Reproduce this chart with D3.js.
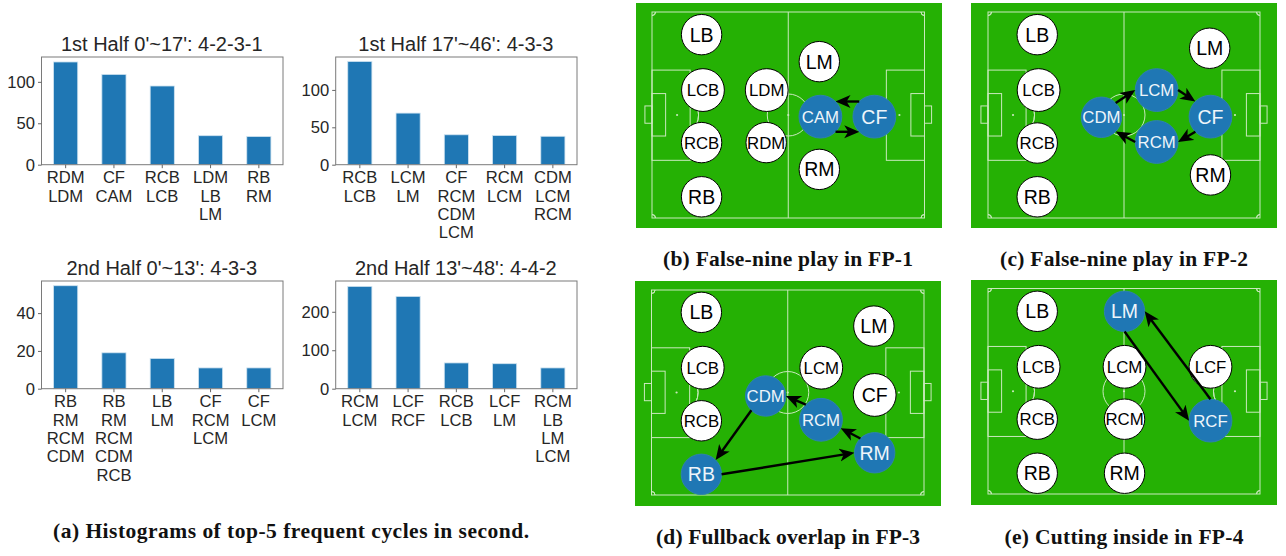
<!DOCTYPE html>
<html>
<head>
<meta charset="utf-8">
<style>
  html, body { margin: 0; padding: 0; background: #fff; }
  svg { display: block; }
  text { font-family: "Liberation Sans", Arial, sans-serif; }
  .caption { font-family: "Liberation Serif", serif; font-weight: bold; font-size: 21.5px; fill: #111; text-anchor: middle; }
</style>
<script src="https://cdn.jsdelivr.net/npm/d3@7"></script>
</head>
<body>
<div id="figure"></div>
<script>
// Histogram panels: titles, cycle labels and counts
var titles = ["1st Half 0'~17': 4-2-3-1", "1st Half 17'~46': 4-3-3", "2nd Half 0'~13': 4-3-3", "2nd Half 13'~48': 4-4-2"];
var cycles1 = ["RDM LDM", "CF CAM", "RCB LCB", "LDM LB LM", "RB RM"];
var counts1 = [124, 109, 95, 35, 34];
var cycles2 = ["RCB LCB", "LCM LM", "CF RCM CDM LCM", "RCM LCM", "CDM LCM RCM"];
var counts2 = [138, 69, 40, 39, 38];
var cycles3 = ["RB RM RCM CDM", "RB RM RCM CDM RCB", "LB LM", "CF RCM LCM", "CF LCM"];
var counts3 = [54.5, 19, 16, 11, 11];
var cycles4 = ["RCM LCM", "LCF RCF", "RCB LCB", "LCF LM", "RCM LB LM LCM"];
var counts4 = [266, 240, 67, 65, 54];
var yTicks1 = [0, 50, 100];
var yTicks2 = [0, 50, 100];
var yTicks3 = [0, 20, 40];
var yTicks4 = [0, 100, 200];
var yMax = [130, 144, 57, 280];

// Pitch panels: player names and positions in percent of pitch length / width
var namesB = ["LB", "LCB", "RCB", "RB", "LDM", "RDM", "LM", "RM", "CAM", "CF"];
var xB = [18.2, 18.7, 18.2, 18.2, 42.1, 41.9, 61.4, 61.4, 61.8, 81.6];
var yB = [11, 37.9, 63.4, 89.7, 37.9, 63.4, 24.1, 76.4, 50.8, 50.8];
var activeB = ["CAM", "CF"];
var wideB = ["LCB", "LDM", "CAM", "CF"];
var passesB = [["CF", "CAM", "NW", "NE"], ["CAM", "CF", "SE", "SW"]];

var namesC = ["LB", "LCB", "RCB", "RB", "CDM", "LCM", "RCM", "CF", "LM", "RM"];
var xC = [18.1, 18.6, 18.1, 18.1, 41.7, 62, 62, 81.8, 81.5, 81.8];
var yC = [11, 37.9, 63.6, 89.7, 51.1, 37.9, 63.1, 50.8, 17.6, 79.1];
var activeC = ["CDM", "LCM", "RCM", "CF"];
var wideC = ["LCB", "LCM", "RCM", "CF"];
var passesC = [["CDM", "LCM", "NE", "W"], ["LCM", "CF", "E", "NW"], ["CF", "RCM", "SW", "E"], ["RCM", "CDM", "W", "SE"]];

var namesD = ["LB", "LCB", "RCB", "RB", "CDM", "RCM", "LCM", "CF", "LM", "RM"];
var xD = [18.3, 18.8, 18.3, 18.3, 41.9, 62.2, 62.3, 81.9, 81.6, 81.9];
var yD = [10.9, 37.9, 63.8, 89.9, 51.7, 63.3, 37.9, 51.2, 17.6, 79.4];
var activeD = ["RB", "RM", "RCM", "CDM"];
var wideD = ["LCB", "RCM", "LCM", "CF"];
var passesD = [["RB", "RM", "E", "W"], ["RM", "RCM", "NW", "ESE"], ["RCM", "CDM", "NW", "E"], ["CDM", "RB", "SW", "NE"]];

var namesE = ["LB", "LCB", "RCB", "RB", "LM", "LCM", "RCM", "RM", "LCF", "RCF"];
var xE = [18.1, 18.6, 18.1, 18.1, 50.2, 50.2, 50.2, 50.2, 81.8, 81.8];
var yE = [11.1, 38.1, 63.6, 89.9, 11.1, 38.1, 63.6, 89.9, 38.1, 64.3];
var activeE = ["LM", "RCF"];
var wideE = ["LCB", "LCM", "LCF", "RCF"];
var passesE = [["RCF", "LM", "N", "E"], ["LM", "RCF", "S", "W"]];

var captions = [
    ["(a) Histograms of top-5 frequent cycles in second.", 291, 537.5, 476],
    ["(b) False-nine play in FP-1", 788, 265.5, 250],
    ["(c) False-nine play in FP-2", 1124, 265.5, 248],
    ["(d) Fullback overlap in FP-3", 788, 543.5, 264],
    ["(e) Cutting inside in FP-4", 1124, 543.5, 239]
];

var barBlue = "#1f77b4";
var textDark = "#262626";
var grass = "#25b104";
var pitchLine = "#c9e9bd";

var svg = d3.select("#figure")
    .append("svg")
    .attr("width", 1286)
    .attr("height", 556);

// Arrow head shared by all pitch panels
svg.append("defs").append("marker")
    .attr("id", "head")
    .attr("markerUnits", "userSpaceOnUse")
    .attr("viewBox", "0 -7 15 14")
    .attr("refX", 11)
    .attr("refY", 0)
    .attr("markerWidth", 15)
    .attr("markerHeight", 14)
    .attr("orient", "auto")
    .append("path")
    .attr("d", "M0,-6.5L15,0L0,6.5L4,0Z")
    .attr("fill", "#000");

// Draw one histogram
function drawHistogram(box, title, cycles, counts, ticks, maxValue) {
    var x = d3.scaleBand()
        .domain(cycles)
        .range([box.left, box.right])
        .paddingInner(0.5)
        .paddingOuter(0.25);
    var y = d3.scaleLinear()
        .domain([0, maxValue])
        .range([box.bottom, box.top]);

    var group = svg.append("g");

    group.selectAll("rect.bar")
        .data(counts)
        .enter()
        .append("rect")
        .attr("class", "bar")
        .attr("x", (d, i) => x(cycles[i]))
        .attr("y", d => y(d))
        .attr("width", x.bandwidth())
        .attr("height", d => y(0) - y(d))
        .attr("fill", barBlue)
        .attr("stroke", "#cfe3f0")
        .attr("stroke-width", 0.8);

    group.append("rect")
        .attr("x", box.left)
        .attr("y", box.top)
        .attr("width", box.right - box.left)
        .attr("height", box.bottom - box.top)
        .attr("fill", "none")
        .attr("stroke", "#7a7a7a")
        .attr("stroke-width", 1);

    var leftAxis = d3.axisLeft(y).tickValues(ticks).tickSize(3.5).tickPadding(3);
    var yAxis = group.append("g")
        .attr("transform", `translate(${box.left}, 0)`)
        .call(leftAxis);
    yAxis.select(".domain").remove();

    var bottomAxis = d3.axisBottom(x).tickSize(3.5).tickFormat("");
    var xAxis = group.append("g")
        .attr("transform", `translate(0, ${box.bottom})`)
        .call(bottomAxis);
    xAxis.select(".domain").remove();

    // One line per position in the cycle
    xAxis.selectAll(".tick text")
        .attr("dy", null)
        .attr("y", null)
        .each(function(d) {
            var words = d.split(" ");
            d3.select(this).selectAll("tspan")
                .data(words)
                .enter()
                .append("tspan")
                .attr("x", 0)
                .attr("y", (w, i) => 18.6 + i * 18.4)
                .text(w => w);
        });

    group.selectAll(".tick line").attr("stroke", "#666");
    group.selectAll(".tick text")
        .attr("fill", textDark)
        .style("font-size", "16.6px")
        .style("font-family", '"Liberation Sans", Arial, sans-serif');

    group.append("text")
        .attr("x", (box.left + box.right) / 2 - 0.5)
        .attr("y", box.top - 6)
        .attr("text-anchor", "middle")
        .attr("fill", textDark)
        .style("font-size", "20px")
        .text(title);
}

// Draw one pitch with its players and passes
function drawPitch(box, names, xs, ys, active, wide, passes) {
    var px = d3.scaleLinear().domain([0, 100]).range([box.lineLeft, box.lineRight]);
    var py = d3.scaleLinear().domain([0, 100]).range([box.lineTop, box.lineBottom]);
    var group = svg.append("g");

    group.append("rect")
        .attr("x", box.left)
        .attr("y", box.top)
        .attr("width", box.width)
        .attr("height", box.height)
        .attr("fill", grass);

    var lines = group.append("g")
        .attr("fill", "none")
        .attr("stroke", pitchLine)
        .attr("stroke-width", 1);

    function pitchRect(x0, y0, x1, y1) {
        lines.append("rect")
            .attr("x", px(x0))
            .attr("y", py(y0))
            .attr("width", px(x1) - px(x0))
            .attr("height", py(y1) - py(y0));
    }

    pitchRect(0, 0, 100, 100);
    pitchRect(0, 28.2, 14, 72);
    pitchRect(86, 28.2, 100, 72);
    pitchRect(0, 39.6, 5, 60.2);
    pitchRect(95, 39.6, 100, 60.2);
    pitchRect(-2.6, 45.6, 0, 54);
    pitchRect(100, 45.6, 102.6, 54);

    lines.append("line")
        .attr("x1", px(50)).attr("x2", px(50))
        .attr("y1", py(0)).attr("y2", py(100));

    lines.append("circle")
        .attr("cx", px(50))
        .attr("cy", py(50))
        .attr("r", 21);

    // Penalty arcs, only the part outside the box
    var arc = d3.arc().innerRadius(21.5).outerRadius(21.5);
    lines.append("path")
        .attr("transform", `translate(${px(9.2)}, ${py(50)})`)
        .attr("d", arc({startAngle: Math.PI / 2 - 0.92, endAngle: Math.PI / 2 + 0.92}));
    lines.append("path")
        .attr("transform", `translate(${px(90.8)}, ${py(50)})`)
        .attr("d", arc({startAngle: -Math.PI / 2 - 0.92, endAngle: -Math.PI / 2 + 0.92}));

    // Corner arcs
    var cornerArc = d3.arc().innerRadius(3.5).outerRadius(3.5);
    [[0, 0, Math.PI / 2], [100, 0, Math.PI], [100, 100, -Math.PI / 2], [0, 100, 0]].forEach(function(c) {
        lines.append("path")
            .attr("transform", `translate(${px(c[0])}, ${py(c[1])})`)
            .attr("d", cornerArc({startAngle: c[2], endAngle: c[2] + Math.PI / 2}));
    });

    group.selectAll("circle.spot")
        .data([9.2, 50, 90.8])
        .enter()
        .append("circle")
        .attr("class", "spot")
        .attr("cx", d => px(d))
        .attr("cy", py(50))
        .attr("r", 1.1)
        .attr("fill", pitchLine);

    function radius(name) {
        return wide.includes(name) ? 21.4 : 20.2;
    }

    // Players
    var nodes = group.selectAll("g.player")
        .data(names)
        .enter()
        .append("g")
        .attr("class", "player")
        .attr("transform", (d, i) => `translate(${px(xs[i])}, ${py(ys[i])})`);

    nodes.append("circle")
        .attr("r", d => radius(d))
        .attr("fill", d => active.includes(d) ? barBlue : "#fff")
        .attr("stroke", d => active.includes(d) ? "#2d82ad" : "#000")
        .attr("stroke-width", 1);

    nodes.append("text")
        .attr("text-anchor", "middle")
        .attr("dy", "0.36em")
        .attr("fill", d => active.includes(d) ? "#eef5fa" : "#000")
        .style("font-size", d => d.length > 2 ? "16.8px" : "19.5px")
        .text(d => d);

    // Passes run between compass ports on the player circles
    var portAngle = {E: 0, ESE: 23, SE: 45, S: 90, SW: 135, W: 180, NW: 225, N: 270, NE: 315};

    function port(name, dir) {
        var i = names.indexOf(name);
        var a = portAngle[dir] * Math.PI / 180;
        return [px(xs[i]) + radius(name) * Math.cos(a), py(ys[i]) + radius(name) * Math.sin(a)];
    }

    // Stop the line short of the tip so the head keeps a sharp point
    function lineEnd(d) {
        var from = port(d[0], d[2]);
        var to = port(d[1], d[3]);
        var len = Math.hypot(to[0] - from[0], to[1] - from[1]);
        return [to[0] - (to[0] - from[0]) * 4 / len, to[1] - (to[1] - from[1]) * 4 / len];
    }

    group.selectAll("line.pass")
        .data(passes)
        .enter()
        .append("line")
        .attr("class", "pass")
        .attr("x1", d => port(d[0], d[2])[0])
        .attr("y1", d => port(d[0], d[2])[1])
        .attr("x2", d => lineEnd(d)[0])
        .attr("y2", d => lineEnd(d)[1])
        .attr("stroke", "#000")
        .attr("stroke-width", 2.4)
        .attr("marker-end", "url(#head)");
}

// Histograms
var histColumns = [{left: 41.5, right: 283}, {left: 335.7, right: 577}];
var histRows = [{top: 57, bottom: 164.7}, {top: 281, bottom: 388.7}];

function histBox(col, row) {
    return {left: histColumns[col].left, right: histColumns[col].right, top: histRows[row].top, bottom: histRows[row].bottom};
}

drawHistogram(histBox(0, 0), titles[0], cycles1, counts1, yTicks1, yMax[0]);
drawHistogram(histBox(1, 0), titles[1], cycles2, counts2, yTicks2, yMax[1]);
drawHistogram(histBox(0, 1), titles[2], cycles3, counts3, yTicks3, yMax[2]);
drawHistogram(histBox(1, 1), titles[3], cycles4, counts4, yTicks4, yMax[3]);

// Pitches
drawPitch({left: 636, top: 3, width: 306, height: 225, lineLeft: 652, lineRight: 924.5, lineTop: 12, lineBottom: 218},
    namesB, xB, yB, activeB, wideB, passesB);
drawPitch({left: 971, top: 3, width: 306, height: 225, lineLeft: 988, lineRight: 1260, lineTop: 12, lineBottom: 218},
    namesC, xC, yC, activeC, wideC, passesC);
drawPitch({left: 635, top: 281, width: 306, height: 225, lineLeft: 651.5, lineRight: 924, lineTop: 290, lineBottom: 495},
    namesD, xD, yD, activeD, wideD, passesD);
drawPitch({left: 971, top: 280, width: 306, height: 225, lineLeft: 988, lineRight: 1260, lineTop: 288.5, lineBottom: 494},
    namesE, xE, yE, activeE, wideE, passesE);

// Captions
svg.selectAll("text.caption")
    .data(captions)
    .enter()
    .append("text")
    .attr("class", "caption")
    .attr("x", d => d[1])
    .attr("y", d => d[2])
    .attr("textLength", d => d[3])
    .attr("lengthAdjust", "spacing")
    .text(d => d[0]);
</script>
</body>
</html>
